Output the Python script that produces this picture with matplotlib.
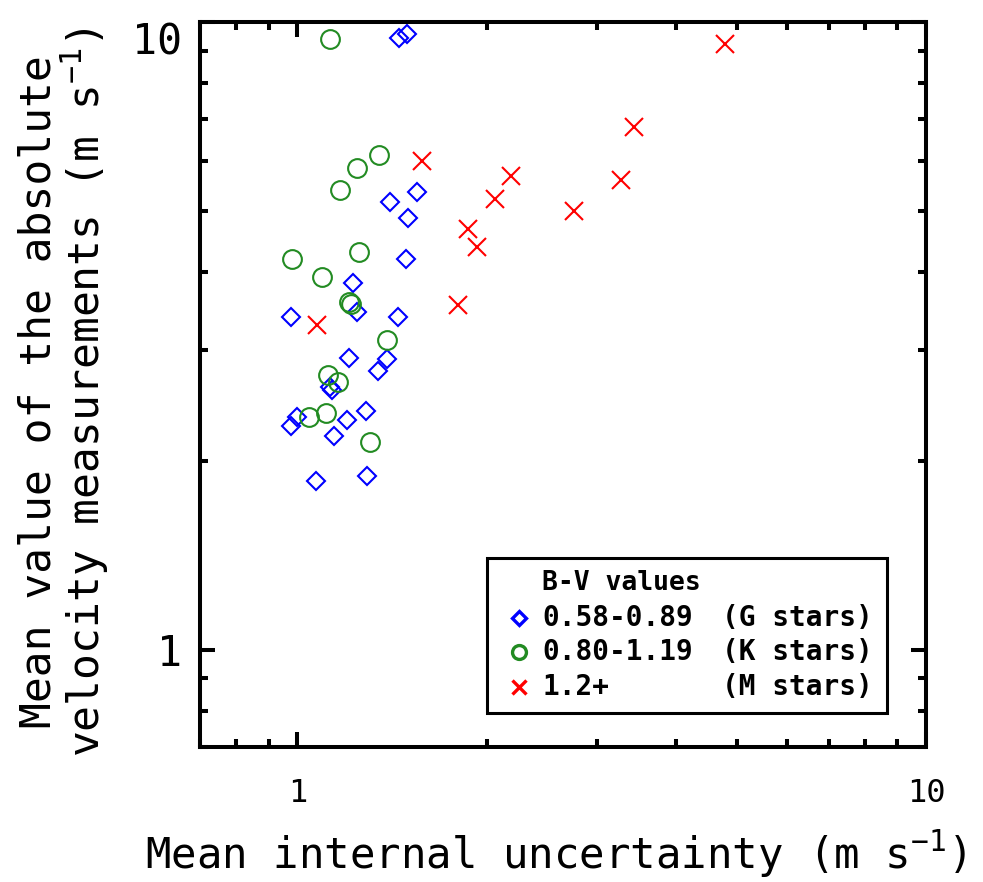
import numpy as np
import matplotlib
matplotlib.use("Agg")
import matplotlib.pyplot as plt
from matplotlib.ticker import FixedLocator, FixedFormatter, LogLocator, NullFormatter
from matplotlib.patches import Rectangle

# ---------- data ----------

# G stars, B-V 0.58-0.89
g_unc = [1.453, 1.496, 1.552, 1.405, 1.501, 1.491, 1.228, 0.975, 1.246, 1.447, 1.210,
         1.390, 1.345, 1.128, 1.137, 1.287, 1.201, 1.000, 0.978, 1.145, 1.072, 1.292]
g_abs = [9.43, 9.57, 5.36, 5.17, 4.87, 4.19, 3.84, 3.39, 3.45, 3.39, 2.92,
         2.90, 2.78, 2.62, 2.59, 2.40, 2.32, 2.35, 2.27, 2.19, 1.86, 1.89]

# K stars, B-V 0.80-1.19
k_unc = [1.128, 1.350, 1.246, 1.170, 0.982, 1.255, 1.096, 1.210, 1.219, 1.390,
         1.120, 1.162, 1.045, 1.112, 1.306]
k_abs = [9.40, 6.14, 5.85, 5.40, 4.19, 4.30, 3.93, 3.58, 3.56, 3.12,
         2.74, 2.67, 2.35, 2.38, 2.14]

# M stars, B-V 1.2+
m_unc = [1.580, 3.43, 2.19, 2.06, 3.27, 2.75, 1.87, 1.93, 1.80, 4.79, 1.076]
m_abs = [6.01, 6.80, 5.69, 5.23, 5.60, 5.00, 4.68, 4.38, 3.54, 9.23, 3.29]

legend_title = "B-V values"
legend_ranges = ["0.58-0.89", "0.80-1.19", "1.2+"]
legend_types = ["(G stars)", "(K stars)", "(M stars)"]

major_ticks = [1, 10]
major_labels = ["1", "10"]

BLUE = "#0000ff"
GREEN = "#228b22"
RED = "#ff0000"

# ---------- style ----------

plt.rcParams["font.family"] = ["DejaVu Sans Mono", "DejaVu Sans"]
plt.rcParams["mathtext.fontset"] = "custom"
plt.rcParams["mathtext.rm"] = "DejaVu Sans Mono"
plt.rcParams["mathtext.it"] = "DejaVu Sans Mono"

fig = plt.figure(figsize=(9.83, 8.82), dpi=100)
ax = fig.add_axes([0.2035, 0.1531, 0.7386, 0.822])

mk = dict(linestyle="none", mfc="none", mew=1.5)
ax.plot(g_unc, g_abs, marker="D", ms=9.2, mec=BLUE, **mk)
ax.plot(k_unc, k_abs, marker="o", ms=13.5, mec=GREEN, **mk)
ax.plot(m_unc, m_abs, marker="x", ms=13.0, mec=RED, **mk)

ax.set_xscale("log")
ax.set_yscale("log")
ax.set_xlim(0.7, 10)
ax.set_ylim(0.7, 10)

for axis in (ax.xaxis, ax.yaxis):
    axis.set_major_locator(FixedLocator(major_ticks))
    axis.set_major_formatter(FixedFormatter(major_labels))
    axis.set_minor_locator(LogLocator(base=10, subs=np.arange(2, 10)))
    axis.set_minor_formatter(NullFormatter())

ax.tick_params(which="both", direction="in", top=True, right=True, width=2.9)
ax.tick_params(which="major", length=11)
ax.tick_params(which="minor", length=5.5)
ax.tick_params(axis="x", which="major", labelsize=23, pad=22)
ax.tick_params(axis="y", which="major", labelsize=30, pad=13)
for sp in ax.spines.values():
    sp.set_linewidth(2.9)

# top y label sits below its tick like in the original
ax.figure.canvas.draw()
ylabs = ax.get_yticklabels()
ylabs[-1].set_va("top")

ax.set_xlabel(r"Mean internal uncertainty (m s$^{-1}$)", fontsize=30.5)
ax.xaxis.set_label_coords(0.49, -0.113)
ax.set_ylabel("Mean value of the absolute\n" + r"velocity measurements (m s$^{-1}$)",
              fontsize=31, linespacing=1.02)
ax.yaxis.set_label_coords(-0.122, 0.49)

# ---------- legend box (drawn by hand to keep column layout) ----------

ax.add_patch(Rectangle((0.395, 0.047), 0.551, 0.214, transform=ax.transAxes,
                       fill=False, lw=2.2, ec="black", zorder=5))
ax.text(0.471, 0.226, legend_title, transform=ax.transAxes, fontsize=19,
        fontweight="bold", ha="left", va="center")

key_styles = [dict(marker="D", ms=7.5, mec=BLUE),
              dict(marker="o", ms=10, mec=GREEN),
              dict(marker="x", ms=10, mec=RED)]
row_y = [0.178, 0.131, 0.083]
for yy, st, rng, typ in zip(row_y, key_styles, legend_ranges, legend_types):
    ax.plot([0.439], [yy], transform=ax.transAxes, linestyle="none", mfc="none",
            mew=2.4, clip_on=False, **st)
    ax.text(0.471, yy, rng, transform=ax.transAxes, fontsize=20,
            fontweight="bold", ha="left", va="center")
    ax.text(0.926, yy, typ, transform=ax.transAxes, fontsize=20,
            fontweight="bold", ha="right", va="center")

fig.savefig("out.png", dpi=100)
